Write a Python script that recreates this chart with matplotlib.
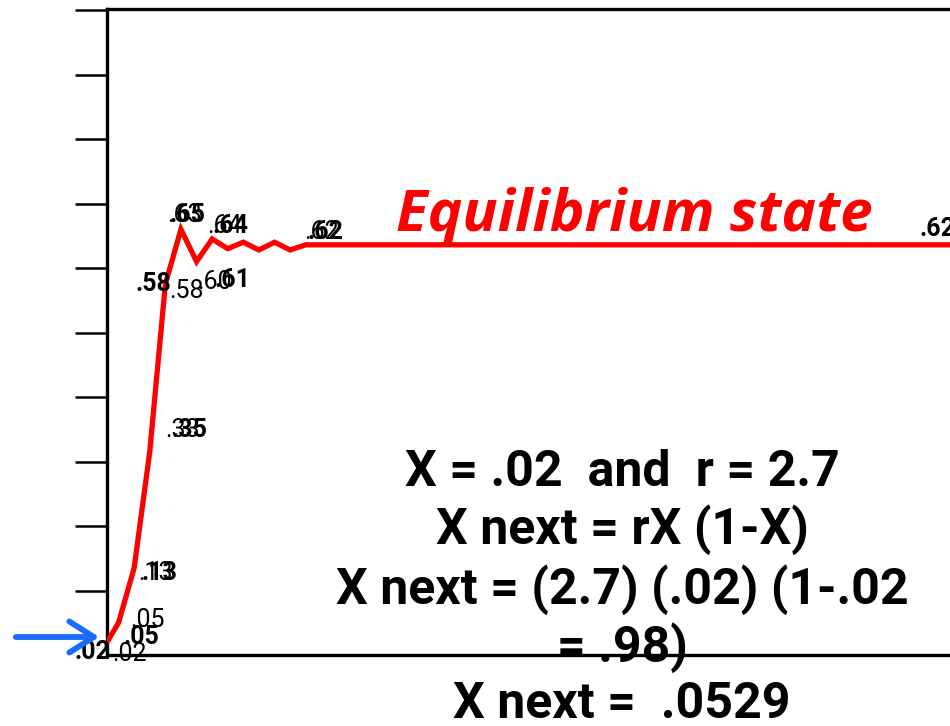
import matplotlib
matplotlib.use('Agg')
import matplotlib.pyplot as plt
from matplotlib import font_manager

# Logistic map iterations (r = 2.7, X0 = .02)
iteration = [0.26, 1, 2, 3, 4, 5, 6, 7, 8, 9, 10, 11, 12, 13, 56]
x_value = [0.02, 0.05, 0.135, 0.315, 0.575, 0.66, 0.61, 0.645, 0.63,
           0.64, 0.628, 0.64, 0.628, 0.636, 0.636]

# two overlapping sets of data labels, as in the original slide
labels_a = ['.02', '.05', '.13', '.35', '.58', '.65', '.61', '.64',
            '', '', '', '', '', '.62', '.62']
labels_b = ['.02', '.05', '.13', '.33', '.58', '.63', '.60', '.64',
            '', '', '', '', '', '.62', '']

formula_lines = ['X = .02  and  r = 2.7',
                 'X next = rX (1-X)',
                 'X next = (2.7) (.02) (1-.02',
                 '= .98)',
                 'X next =  .0529']

# pick a narrow font if there is one, else Roboto
names = {f.name for f in font_manager.fontManager.ttflist}
if 'Liberation Sans Narrow' in names:
    narrow = ['Liberation Sans Narrow', 'DejaVu Sans']
else:
    narrow = ['Roboto', 'DejaVu Sans']

fig = plt.figure(figsize=(9.5, 7.26), dpi=100)
ax = fig.add_axes([107 / 950, 71 / 726, 0.95, 646 / 726])
ax.plot(iteration, x_value, color='#ff0000', linewidth=3.8,
        solid_joinstyle='miter', zorder=3)
ax.set_xlim(0.26, 0.26 + 0.95 * 950 / 15.6)
ax.set_ylim(0, 1.0016)
ax.set_yticks([0.1 * k for k in range(1, 11)])
ax.set_yticklabels([])
ax.set_xticks([])
ax.tick_params(axis='y', direction='out', length=23, width=1.8, color='black')
for s in ax.spines.values():
    s.set_linewidth(2.4)
    s.set_color('black')

# label offsets in pixels (set a / set b)
off_a = [(-15, -10), (23, -14), (25, -5), (40, 22), (-12, 0), (6, 14),
         (36, -18), (18, 13), None, None, None, None, None, (20, 13), (-39, 16)]
off_b = [(22, -12), (29, 3), (21, -5), (33, 22), (21, -7), (4, 14),
         (18, -20), (12, 13), None, None, None, None, None, (16, 13), None]

for xi, yi, la, lb, oa, ob in zip(iteration, x_value, labels_a, labels_b, off_a, off_b):
    if la:
        ax.annotate(la, (xi, yi), xytext=oa, textcoords='offset pixels',
                    ha='center', va='center', fontsize=18, fontweight='bold',
                    family=narrow, color='black', annotation_clip=False)
    if lb:
        ax.annotate(lb, (xi, yi), xytext=ob, textcoords='offset pixels',
                    ha='center', va='center', fontsize=18,
                    family=narrow, color='black', annotation_clip=False)

# title on the plateau
fig.text(634 / 950, 1 - 231 / 726, 'Equilibrium state', ha='center', va='baseline',
         fontsize=42, fontweight='bold', fontstyle='italic', color='#ff0000',
         family=['Open Sans', 'DejaVu Sans'])

# formula block
line_y = [472, 530, 590, 648, 705]
for txt, yy in zip(formula_lines, line_y):
    fig.text(622 / 950, 1 - yy / 726, txt, ha='center', va='center',
             fontsize=36, fontweight='bold', family=narrow, color='black', zorder=5)

# blue arrow pointing at the starting value
fig.patches.append(matplotlib.patches.FancyArrowPatch(
    (13 / 950, 1 - 637 / 726), (102 / 950, 1 - 637 / 726),
    transform=fig.transFigure, arrowstyle='->,head_length=11,head_width=7',
    color='#1a6cff', linewidth=4.2, mutation_scale=1.6))

plt.savefig('out.png', dpi=100)
